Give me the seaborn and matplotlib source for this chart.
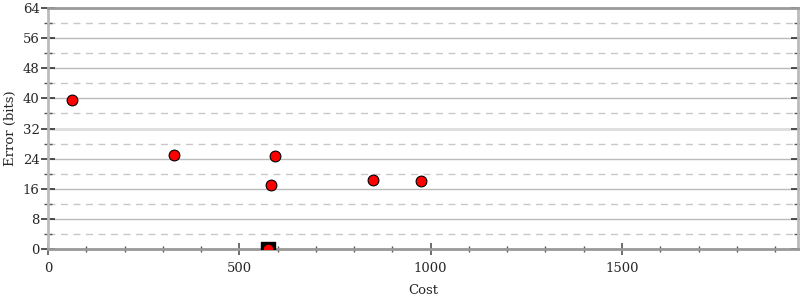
import matplotlib
matplotlib.use("Agg")
import matplotlib.pyplot as plt
import seaborn as sns
import pandas as pd
from matplotlib.ticker import MultipleLocator

cost = [63, 329, 593, 583, 849, 975, 575]
error = [39.6, 25.0, 24.7, 17.0, 18.3, 18.1, 0.0]
best_cost = [575]
best_error = [0.0]

sns.set_style("white")
plt.rcParams['font.family'] = ['DejaVu Serif']

df = pd.DataFrame({"Cost": cost, "Error (bits)": error})
fig = plt.figure(figsize=(8, 3), dpi=100)
ax = fig.add_axes([0.06, 0.17, 0.9375, 0.8033])

ax.set_xlim(0, 1960)
ax.set_ylim(0, 64)

ax.xaxis.set_major_locator(MultipleLocator(500))
ax.xaxis.set_minor_locator(MultipleLocator(100))
ax.yaxis.set_major_locator(MultipleLocator(8))
ax.yaxis.set_minor_locator(MultipleLocator(4))

for v in range(8, 64, 8):
    c = "#dddddd" if v == 32 else "#bbbbbb"
    lw = 2 if v == 32 else 1
    ax.axhline(v, color=c, lw=lw, zorder=0)
for v in range(4, 64, 8):
    ax.axhline(v, color="#c8c8c8", lw=1, ls=(0, (5, 4)), zorder=0)

ax.scatter(best_cost, best_error, marker="s", s=110, color="black", zorder=3, clip_on=True)
sns.scatterplot(data=df, x="Cost", y="Error (bits)", ax=ax, color="red",
                edgecolor="black", linewidth=0.8, s=60, zorder=4, legend=False)

for side in ["left", "right", "bottom", "top"]:
    ax.spines[side].set_visible(True)
    ax.spines[side].set_color("#999999")
    ax.spines[side].set_linewidth(2)
ax.spines["left"].set_color("#bbbbbb")
ax.spines["right"].set_color("#bbbbbb")

ax.tick_params(axis="y", which="major", direction="inout", length=10, width=1.2,
               color="#333333", left=True, right=True, labelsize=9.5, pad=1)
ax.tick_params(axis="y", which="minor", direction="inout", length=6, width=1,
               color="#555555", left=True, right=True)
ax.tick_params(axis="x", which="major", direction="inout", length=8, width=1.2,
               color="#555555", bottom=True, labelsize=9.5, pad=5)
ax.tick_params(axis="x", which="minor", direction="inout", length=5, width=1,
               color="#555555", bottom=True)

ax.set_xlabel("Cost", fontsize=9.5, labelpad=7)
ax.set_ylabel("Error (bits)", fontsize=9.5, labelpad=4)

fig.savefig("out.png", dpi=100)
